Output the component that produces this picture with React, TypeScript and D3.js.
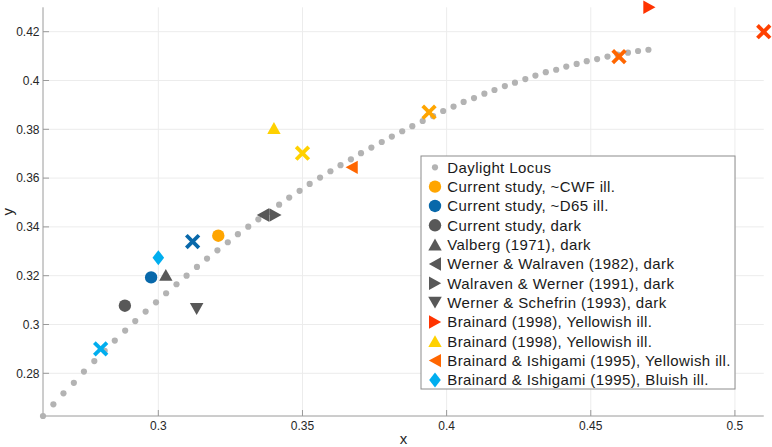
import React from "react";
import * as d3 from "d3";

// Daylight locus samples
const locusX = [0.2600,0.2636,0.2671,0.2707,0.2742,0.2778,0.2814,0.2849,0.2885,0.2920,0.2956,0.2992,0.3027,0.3063,0.3098,0.3134,0.3169,0.3205,0.3241,0.3276,0.3312,0.3347,0.3383,0.3419,0.3454,0.3490,0.3525,0.3561,0.3597,0.3632,0.3668,0.3703,0.3739,0.3775,0.3810,0.3846,0.3881,0.3917,0.3953,0.3988,0.4024,0.4059,0.4095,0.4131,0.4166,0.4202,0.4237,0.4273,0.4308,0.4344,0.4380,0.4415,0.4451,0.4486,0.4522,0.4558,0.4593,0.4629,0.4664,0.4700];
const locusY = [0.2625,0.2673,0.2718,0.2761,0.2807,0.2850,0.2892,0.2934,0.2975,0.3014,0.3053,0.3091,0.3128,0.3165,0.3200,0.3236,0.3270,0.3304,0.3337,0.3370,0.3401,0.3431,0.3461,0.3491,0.3520,0.3548,0.3576,0.3602,0.3628,0.3653,0.3677,0.3702,0.3725,0.3748,0.3770,0.3792,0.3813,0.3834,0.3854,0.3875,0.3893,0.3912,0.3928,0.3946,0.3961,0.3977,0.3991,0.4006,0.4020,0.4034,0.4044,0.4057,0.4068,0.4079,0.4088,0.4098,0.4106,0.4114,0.4121,0.4126];

// Legend series (label, symbol, colour, x, y)
const seriesLabels = [
  "Current study, ~CWF ill.",
  "Current study, ~D65 ill.",
  "Current study, dark",
  "Valberg (1971), dark",
  "Werner & Walraven (1982), dark",
  "Walraven & Werner (1991), dark",
  "Werner & Schefrin (1993), dark",
  "Brainard (1998), Yellowish ill.",
  "Brainard (1998), Yellowish ill.",
  "Brainard & Ishigami (1995), Yellowish ill.",
  "Brainard & Ishigami (1995), Bluish ill.",
];
const seriesSymbols = ["circle", "circle", "circle", "up", "left", "right", "down", "right", "up", "left", "diamond"];
const seriesColors = ["#FFA500", "#0868AA", "#585858", "#585858", "#585858", "#585858", "#585858", "#FF3300", "#FFD100", "#FF6600", "#00AEEF"];
const seriesX = [0.3208, 0.2975, 0.2884, 0.3026, 0.3363, 0.3406, 0.3133, 0.4703, 0.3401, 0.3671, 0.3000];
const seriesY = [0.3364, 0.3193, 0.3077, 0.3203, 0.3449, 0.3449, 0.3064, 0.4300, 0.3805, 0.3644, 0.3274];

// Cross markers (not in legend)
const crossX = [0.2800, 0.3119, 0.3500, 0.3939, 0.4598, 0.5100];
const crossY = [0.2900, 0.3340, 0.3702, 0.3870, 0.4098, 0.4200];
const crossColors = ["#00AEEF", "#0868AA", "#FFD100", "#FFA500", "#FF6600", "#FF4000"];

const xTicks = [0.3, 0.35, 0.4, 0.45, 0.5];
const yTicks = [0.28, 0.3, 0.32, 0.34, 0.36, 0.38, 0.4, 0.42];

const W = 772, H = 447;
const FONT = "'Liberation Sans', Arial, Helvetica, sans-serif";

function symbolPath(kind: string, cx: number, cy: number): string {
  const p = d3.path();
  if (kind === "up") {
    p.moveTo(cx - 6.7, cy + 5.8); p.lineTo(cx + 6.7, cy + 5.8); p.lineTo(cx, cy - 6); p.closePath();
  } else if (kind === "down") {
    p.moveTo(cx - 6.8, cy - 5.8); p.lineTo(cx + 6.8, cy - 5.8); p.lineTo(cx, cy + 6); p.closePath();
  } else if (kind === "left") {
    p.moveTo(cx + 6, cy - 6.7); p.lineTo(cx + 6, cy + 6.7); p.lineTo(cx - 6.2, cy); p.closePath();
  } else if (kind === "right") {
    p.moveTo(cx - 6, cy - 6.7); p.lineTo(cx - 6, cy + 6.7); p.lineTo(cx + 6.2, cy); p.closePath();
  } else if (kind === "diamond") {
    p.moveTo(cx, cy - 7.5); p.lineTo(cx + 5.8, cy); p.lineTo(cx, cy + 7.5); p.lineTo(cx - 5.8, cy); p.closePath();
  }
  return p.toString();
}

function Marker({ kind, cx, cy, color }: { kind: string; cx: number; cy: number; color: string }) {
  if (kind === "circle") return <circle cx={cx} cy={cy} r={6.2} fill={color} />;
  return <path d={symbolPath(kind, cx, cy)} fill={color} />;
}

export default function App() {
  const x = d3.scaleLinear().domain([0.26, 0.51]).range([43, 763.75]);
  const y = d3.scaleLinear().domain([0.2625, 0.43]).range([416, 7.3]);
  const [x0, x1] = x.range();
  const [y0, y1] = y.range();
  const axisColor = "#9a9a9a";
  const legX = 421, legY = 156, legW = 314, legH = 233;
  const rowY = (i: number) => 167.3 + i * 19.33;

  return (
    <div style={{ position: "fixed", left: 0, top: 0, width: W, height: H, background: "#fff" }}>
      <svg width={W} height={H} style={{ display: "block" }} fontFamily={FONT}>
        <rect width={W} height={H} fill="#fff" />
        {/* grid */}
        {xTicks.map((t) => (
          <line key={"gx" + t} x1={x(t)} x2={x(t)} y1={y1} y2={y0} stroke="#ececec" strokeWidth={1} />
        ))}
        {yTicks.map((t) => (
          <line key={"gy" + t} x1={x0} x2={x1} y1={y(t)} y2={y(t)} stroke="#ececec" strokeWidth={1} />
        ))}
        {/* axes */}
        <line x1={x0} x2={x1} y1={y0} y2={y0} stroke={axisColor} strokeWidth={1} />
        <line x1={x0} x2={x0} y1={y0} y2={y1} stroke={axisColor} strokeWidth={1} />
        {xTicks.map((t) => (
          <g key={"tx" + t}>
            <line x1={x(t)} x2={x(t)} y1={y0} y2={y0 - 6} stroke={axisColor} />
            <text x={x(t)} y={430} textAnchor="middle" fontSize={12} fill="#262626">{String(t)}</text>
          </g>
        ))}
        {yTicks.map((t) => (
          <g key={"ty" + t}>
            <line x1={x0} x2={x0 + 6} y1={y(t)} y2={y(t)} stroke={axisColor} />
            <text x={39.5} y={y(t) + 4.3} textAnchor="end" fontSize={12} fill="#262626">{String(t)}</text>
          </g>
        ))}
        <text x={(x0 + x1) / 2} y={444} textAnchor="middle" fontSize={15} fill="#262626">x</text>
        <text transform={`translate(13,${(y0 + y1) / 2}) rotate(-90)`} textAnchor="middle" fontSize={15} fill="#262626">y</text>

        {/* daylight locus */}
        {locusX.map((v, i) => (
          <circle key={"l" + i} cx={x(v)} cy={y(locusY[i])} r={3.1} fill="#b3b3b3" />
        ))}

        {/* series markers */}
        {seriesX.map((v, i) => (
          <Marker key={"s" + i} kind={seriesSymbols[i]} cx={x(v)} cy={y(seriesY[i])} color={seriesColors[i]} />
        ))}

        {/* crosses */}
        {crossX.map((v, i) => {
          const cx = x(v), cy = y(crossY[i]), s = 6.3;
          return (
            <g key={"c" + i} stroke={crossColors[i]} strokeWidth={3.8}>
              <line x1={cx - s} y1={cy - s} x2={cx + s} y2={cy + s} />
              <line x1={cx - s} y1={cy + s} x2={cx + s} y2={cy - s} />
            </g>
          );
        })}

        {/* legend */}
        <rect x={legX} y={legY} width={legW} height={legH} fill="#fff" stroke="#8c8c8c" strokeWidth={1} />
        <circle cx={435} cy={rowY(0)} r={3.1} fill="#b3b3b3" />
        <text x={447.3} y={rowY(0)} dominantBaseline="central" fontSize={15} letterSpacing={0.4} fill="#1a1a1a">Daylight Locus</text>
        {seriesLabels.map((lab, i) => (
          <g key={"lg" + i}>
            <Marker kind={seriesSymbols[i]} cx={435} cy={rowY(i + 1)} color={seriesColors[i]} />
            <text x={447.3} y={rowY(i + 1)} dominantBaseline="central" fontSize={15} letterSpacing={0.4} fill="#1a1a1a">{lab}</text>
          </g>
        ))}
      </svg>
    </div>
  );
}
